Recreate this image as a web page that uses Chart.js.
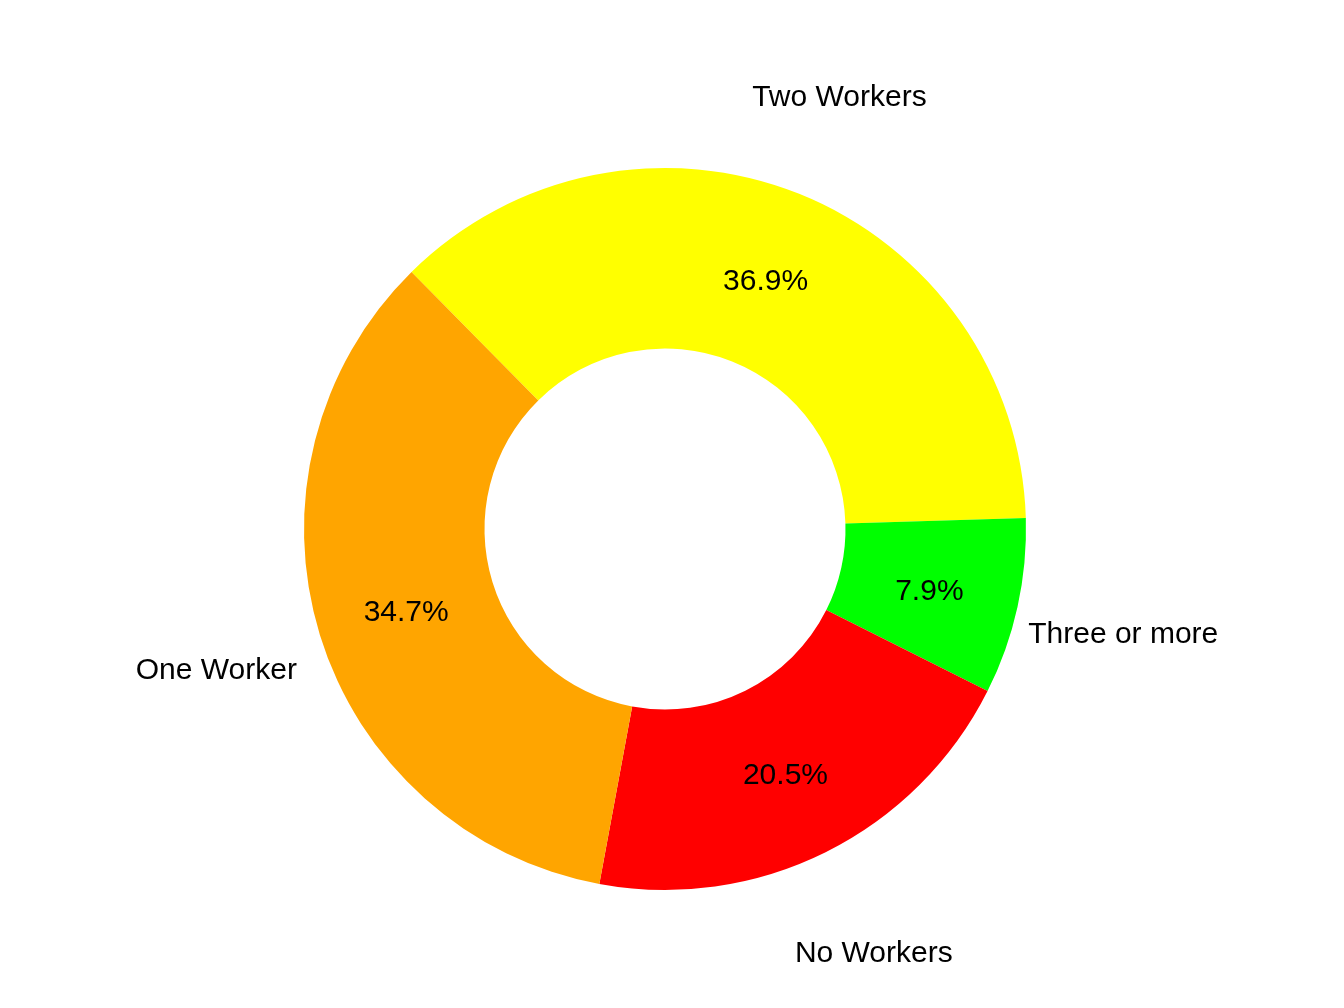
<!DOCTYPE html>
<html>
<head>
<meta charset="utf-8">
<script src="https://cdn.jsdelivr.net/npm/chart.js@4"></script>
<style>
  html, body { margin: 0; padding: 0; background: #fff; }
  #wrap { width: 1344px; height: 1008px; }
</style>
</head>
<body>
<div id="wrap"><canvas id="myChart"></canvas></div>
<script>
const categories = ['Two Workers', 'Three or more', 'No Workers', 'One Worker'];
const shares = [36.9, 7.9, 20.5, 34.7];
const colors = ['#FFFF00', '#00FF00', '#FF0000', '#FFA500'];

const ctx = document.getElementById('myChart');

// draws the percent inside each slice and the category name outside it
const sliceLabels = {
    id: 'sliceLabels',
    afterDatasetsDraw(chart) {
        const {ctx} = chart;
        const arcs = chart.getDatasetMeta(0).data;
        ctx.save();
        ctx.font = '30px "Liberation Sans", Arial, sans-serif';
        ctx.fillStyle = '#000';
        ctx.textAlign = 'center';
        ctx.textBaseline = 'middle';
        const dy = 4;
        arcs.forEach((arc, i) => {
            const {x, y, startAngle, endAngle, innerRadius, outerRadius} = arc.getProps(
                ['x', 'y', 'startAngle', 'endAngle', 'innerRadius', 'outerRadius'], true);
            const mid = (startAngle + endAngle) / 2;
            const rIn = (innerRadius + outerRadius) / 2;
            ctx.fillText(shares[i].toFixed(1) + '%', x + Math.cos(mid) * rIn, y + Math.sin(mid) * rIn + dy);
            const rOut = outerRadius * 1.3;
            ctx.fillText(categories[i], x + Math.cos(mid) * rOut, y + Math.sin(mid) * rOut + dy);
        });
        ctx.restore();
    }
};

new Chart(ctx, {
    type: 'doughnut',
    data: {
        labels: categories,
        datasets: [{
            data: shares,
            backgroundColor: colors,
            borderWidth: 0,
        }]
    },
    plugins: [sliceLabels],
    options: {
        responsive: true,
        maintainAspectRatio: false,
        animation: false,
        cutout: '50%',
        rotation: -44.6,
        layout: {
            padding: {left: 304, right: 318, top: 168, bottom: 118}
        },
        plugins: {
            legend: {display: false},
            tooltip: {enabled: false}
        }
    }
});
</script>
</body>
</html>
